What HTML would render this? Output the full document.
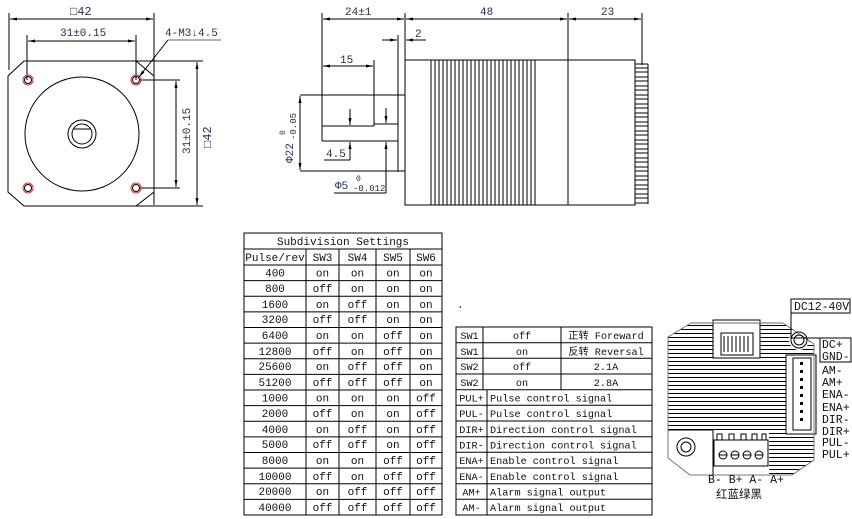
<!DOCTYPE html>
<html><head><meta charset="utf-8"><style>
html,body{margin:0;padding:0;background:#fff;}
svg{display:block;}
text{font-family:"Liberation Mono","Noto Sans CJK SC",monospace;}
.t{font-size:11px;fill:#111;}
.r{font-size:10.2px;fill:#111;}
.d{font-size:11px;fill:#223355;}
</style></head><body>
<svg width="852" height="519" viewBox="0 0 852 519" xmlns="http://www.w3.org/2000/svg">
<defs>
<pattern id="st" x="0" y="0" width="10" height="4" patternUnits="userSpaceOnUse">
<line x1="0" y1="1.5" x2="10" y2="1.5" stroke="#000" stroke-width="1"/>
</pattern>
<marker id="a" markerWidth="8" markerHeight="6" refX="7" refY="3" orient="auto-start-reverse" markerUnits="userSpaceOnUse"><path d="M0,1.5 L7,3 L0,4.5 Z" fill="#000"/></marker>
</defs>
<g stroke="#000" stroke-width="1" fill="none">
<!-- FRONT VIEW -->
<line x1="9" y1="13" x2="9" y2="70"/>
<line x1="154" y1="13" x2="154" y2="205"/>
<line x1="10" y1="19" x2="153" y2="19" marker-start="url(#a)" marker-end="url(#a)"/>
<line x1="27" y1="35" x2="27" y2="80"/>
<line x1="136" y1="35" x2="136" y2="80"/>
<line x1="28" y1="41" x2="135" y2="41" marker-start="url(#a)" marker-end="url(#a)"/>
<path d="M24,61 L136,61 L154,76 L154,192 L136,206 L24,206 L8,192 L8,76 Z"/>
<line x1="136" y1="61" x2="203" y2="61"/>
<line x1="136" y1="206" x2="203" y2="206"/>
<line x1="197" y1="62" x2="197" y2="205" marker-start="url(#a)" marker-end="url(#a)"/>
<line x1="140" y1="80" x2="180" y2="80"/>
<line x1="140" y1="188" x2="180" y2="188"/>
<line x1="176" y1="81" x2="176" y2="187" marker-start="url(#a)" marker-end="url(#a)"/>
<circle cx="82" cy="134" r="57"/>
<circle cx="82" cy="134" r="14"/>
<circle cx="82" cy="134" r="10"/>
<path d="M74,129 L90,129"/>
<g stroke="#d33"><circle cx="28" cy="80" r="5"/><circle cx="136" cy="80" r="5"/><circle cx="28" cy="188" r="5"/><circle cx="136" cy="188" r="5"/></g>
<g stroke="#000"><circle cx="28" cy="80" r="3.5"/><circle cx="136" cy="80" r="3.5"/><circle cx="28" cy="188" r="3.5"/><circle cx="136" cy="188" r="3.5"/></g>
<line x1="168" y1="40" x2="139" y2="77" marker-end="url(#a)"/>
<line x1="168" y1="40" x2="221" y2="40" stroke="#999" stroke-width="1.5"/>

<!-- SIDE VIEW -->
<line x1="322" y1="13" x2="322" y2="141"/>
<line x1="405" y1="13" x2="405" y2="205"/>
<line x1="568" y1="13" x2="568" y2="205"/>
<line x1="642" y1="13" x2="642" y2="65"/>
<line x1="323" y1="19" x2="404" y2="19" marker-start="url(#a)" marker-end="url(#a)"/>
<line x1="406" y1="19" x2="567" y2="19" marker-start="url(#a)" marker-end="url(#a)"/>
<line x1="569" y1="19" x2="641" y2="19" marker-start="url(#a)" marker-end="url(#a)"/>
<line x1="382" y1="40" x2="397" y2="40" marker-end="url(#a)"/>
<line x1="426" y1="40" x2="406" y2="40" marker-end="url(#a)"/>
<line x1="398" y1="35" x2="398" y2="172"/>
<rect x="405" y="60" width="230" height="145"/>
<line x1="323" y1="66" x2="373" y2="66" marker-start="url(#a)" marker-end="url(#a)"/>
<line x1="374" y1="60" x2="374" y2="126"/>
<line x1="300" y1="95" x2="405" y2="95"/>
<line x1="300" y1="171" x2="405" y2="171"/>
<line x1="300" y1="96" x2="300" y2="170" marker-start="url(#a)" marker-end="url(#a)"/>
<line x1="322" y1="126" x2="374" y2="126"/>
<line x1="374" y1="124" x2="398" y2="124"/>
<line x1="322" y1="141" x2="398" y2="141"/>
<line x1="350" y1="109" x2="350" y2="125" marker-end="url(#a)"/>
<line x1="350" y1="160" x2="350" y2="142" marker-end="url(#a)"/>
<line x1="324" y1="160" x2="350" y2="160"/>
<line x1="386" y1="108" x2="386" y2="123" marker-end="url(#a)"/>
<line x1="386" y1="193" x2="386" y2="142" marker-end="url(#a)"/>
<line x1="334" y1="193" x2="386" y2="193"/>
<path d="M431,60V205M435,60V205M439,60V205M443,60V205M447,60V205M451,60V205M455,60V205M459,60V205M463,60V205M467,60V205M471,60V205M475,60V205M479,60V205M483,60V205M487,60V205M491,60V205M495,60V205M499,60V205M503,60V205M507,60V205M511,60V205M515,60V205M519,60V205M523,60V205M527,60V205M531,60V205M535,60V205"/>
<line x1="648" y1="64" x2="648" y2="204"/>
<path d="M635,64H648M635,68H648M635,72H648M635,77H648M635,81H648M635,86H648M635,90H648M635,95H648M635,99H648M635,104H648M635,108H648M635,113H648M635,117H648M635,122H648M635,126H648M635,131H648M635,135H648M635,140H648M635,144H648M635,149H648M635,153H648M635,158H648M635,162H648M635,167H648M635,171H648M635,176H648M635,180H648M635,185H648M635,189H648M635,194H648M635,198H648M635,203H648"/>
</g>
<g class="d">
<text x="70" y="15" font-size="12">□42</text>
<text x="60" y="36">31±0.15</text>
<text x="165" y="36">4-M3↓4.5</text>
<text transform="translate(190,154) rotate(-90)">31±0.15</text>
<text transform="translate(211,148) rotate(-90)" font-size="12">□42</text>
<text x="345" y="15">24±1</text>
<text x="480" y="15">48</text>
<text x="601" y="15">23</text>
<text x="415" y="37">2</text>
<text x="340" y="63">15</text>
<text x="326" y="157">4.5</text>
<text x="335" y="189">Φ5</text>
<text x="356" y="181" font-size="8">0</text>
<text x="353" y="191" font-size="9">-0.012</text>
<text transform="translate(293,163) rotate(-90)">Φ22</text>
<text transform="translate(285,135) rotate(-90)" font-size="8">0</text>
<text transform="translate(296,140) rotate(-90)" font-size="9">-0.05</text>
</g>

<!-- SUBDIVISION TABLE -->
<g stroke="#000" fill="none" stroke-width="1">
<rect x="244" y="233" width="198" height="282"/>
<path d="M244,249H442M244,265H442M244,280.6H442M244,296.3H442M244,311.9H442M244,327.5H442M244,343.1H442M244,358.8H442M244,374.4H442M244,390H442M244,405.6H442M244,421.3H442M244,436.9H442M244,452.5H442M244,468.1H442M244,483.8H442M244,499.4H442"/>
<path d="M306,249V515M339,249V515M376,249V515M410,249V515"/>
</g>
<g class="t" text-anchor="middle">
<text x="343" y="245">Subdivision Settings</text>
<text x="275" y="261">Pulse/rev</text><text x="322.5" y="261">SW3</text><text x="357.5" y="261">SW4</text><text x="393" y="261">SW5</text><text x="426" y="261">SW6</text>
<text x="275" y="276.5">400</text><text x="322.5" y="276.5">on</text><text x="357.5" y="276.5">on</text><text x="393" y="276.5">on</text><text x="426" y="276.5">on</text>
<text x="275" y="292">800</text><text x="322.5" y="292">off</text><text x="357.5" y="292">on</text><text x="393" y="292">on</text><text x="426" y="292">on</text>
<text x="275" y="308">1600</text><text x="322.5" y="308">on</text><text x="357.5" y="308">off</text><text x="393" y="308">on</text><text x="426" y="308">on</text>
<text x="275" y="323">3200</text><text x="322.5" y="323">off</text><text x="357.5" y="323">off</text><text x="393" y="323">on</text><text x="426" y="323">on</text>
<text x="275" y="339">6400</text><text x="322.5" y="339">on</text><text x="357.5" y="339">on</text><text x="393" y="339">off</text><text x="426" y="339">on</text>
<text x="275" y="355">12800</text><text x="322.5" y="355">off</text><text x="357.5" y="355">on</text><text x="393" y="355">off</text><text x="426" y="355">on</text>
<text x="275" y="370">25600</text><text x="322.5" y="370">on</text><text x="357.5" y="370">off</text><text x="393" y="370">off</text><text x="426" y="370">on</text>
<text x="275" y="386">51200</text><text x="322.5" y="386">off</text><text x="357.5" y="386">off</text><text x="393" y="386">off</text><text x="426" y="386">on</text>
<text x="275" y="401.5">1000</text><text x="322.5" y="401.5">on</text><text x="357.5" y="401.5">on</text><text x="393" y="401.5">on</text><text x="426" y="401.5">off</text>
<text x="275" y="417">2000</text><text x="322.5" y="417">off</text><text x="357.5" y="417">on</text><text x="393" y="417">on</text><text x="426" y="417">off</text>
<text x="275" y="433">4000</text><text x="322.5" y="433">on</text><text x="357.5" y="433">off</text><text x="393" y="433">on</text><text x="426" y="433">off</text>
<text x="275" y="448">5000</text><text x="322.5" y="448">off</text><text x="357.5" y="448">off</text><text x="393" y="448">on</text><text x="426" y="448">off</text>
<text x="275" y="464">8000</text><text x="322.5" y="464">on</text><text x="357.5" y="464">on</text><text x="393" y="464">off</text><text x="426" y="464">off</text>
<text x="275" y="480">10000</text><text x="322.5" y="480">off</text><text x="357.5" y="480">on</text><text x="393" y="480">off</text><text x="426" y="480">off</text>
<text x="275" y="495">20000</text><text x="322.5" y="495">on</text><text x="357.5" y="495">off</text><text x="393" y="495">off</text><text x="426" y="495">off</text>
<text x="275" y="511">40000</text><text x="322.5" y="511">off</text><text x="357.5" y="511">off</text><text x="393" y="511">off</text><text x="426" y="511">off</text>
</g>

<!-- SIGNAL TABLE -->
<g stroke="#000" fill="none" stroke-width="1">
<rect x="456" y="327" width="196" height="188"/>
<path d="M456,342.7H652M456,358.3H652M456,374H652M456,389.7H652M456,405.3H652M456,421H652M456,436.7H652M456,452.3H652M456,468H652M456,483.7H652M456,499.3H652"/>
<path d="M483,327V389.7M561,327V389.7M487,389.7V515"/>
</g>
<text x="457" y="308" class="t">.</text>
<g class="r">
<text x="469.5" y="339" text-anchor="middle">SW1</text><text x="522" y="339" text-anchor="middle">off</text><text x="606" y="339" text-anchor="middle">正转 Foreward</text>
<text x="469.5" y="355" text-anchor="middle">SW1</text><text x="522" y="355" text-anchor="middle">on</text><text x="606" y="355" text-anchor="middle">反转 Reversal</text>
<text x="469.5" y="370" text-anchor="middle">SW2</text><text x="522" y="370" text-anchor="middle">off</text><text x="606" y="370" text-anchor="middle">2.1A</text>
<text x="469.5" y="386" text-anchor="middle">SW2</text><text x="522" y="386" text-anchor="middle">on</text><text x="606" y="386" text-anchor="middle">2.8A</text>
<text x="471.5" y="401.5" text-anchor="middle">PUL+</text><text x="490" y="401.5">Pulse control signal</text>
<text x="471.5" y="417" text-anchor="middle">PUL-</text><text x="490" y="417">Pulse control signal</text>
<text x="471.5" y="433" text-anchor="middle">DIR+</text><text x="490" y="433">Direction control signal</text>
<text x="471.5" y="448.5" text-anchor="middle">DIR-</text><text x="490" y="448.5">Direction control signal</text>
<text x="471.5" y="464" text-anchor="middle">ENA+</text><text x="490" y="464">Enable control signal</text>
<text x="471.5" y="480" text-anchor="middle">ENA-</text><text x="490" y="480">Enable control signal</text>
<text x="471.5" y="495.5" text-anchor="middle">AM+</text><text x="490" y="495.5">Alarm signal output</text>
<text x="471.5" y="511" text-anchor="middle">AM-</text><text x="490" y="511">Alarm signal output</text>
</g>

<!-- DRIVER -->
<path d="M691,323 L783,323 L814,344 L814,460 L792,475 L690,475 L668,458 L668,337 Z" fill="url(#st)" stroke="none"/>
<g fill="#fff" stroke="#000">
<rect x="713" y="320" width="47" height="38"/>
<rect x="786" y="355" width="30" height="79"/>
<rect x="668" y="430" width="45" height="47" stroke="none"/>
<rect x="713" y="430" width="56" height="47" stroke="none"/>
<circle cx="799" cy="340" r="10" stroke="none"/>
</g>
<g stroke="#000" fill="none">
<path d="M691,323 L783,323" stroke="#999" stroke-width="1.5"/>
<path d="M783,323 L814,344 L814,460 L792,475 L690,475 L668,458 L668,337 L691,323" stroke="#777"/>
<line x1="713" y1="323" x2="713" y2="358"/><line x1="760" y1="323" x2="760" y2="358"/>
<rect x="721" y="333" width="32" height="22"/>
<path d="M724,336V352M728,336V352M732,336V352M736,336V352M740,336V352M744,336V352M748,336V352"/>
<circle cx="799" cy="340" r="8"/><circle cx="799" cy="340" r="5"/>
<rect x="793" y="358" width="18" height="72"/>
<path d="M668,430H713V475"/>
<circle cx="686" cy="447" r="9"/><circle cx="686" cy="447" r="5"/>
<rect x="714" y="440" width="54" height="26"/>
<path d="M717,440V434H722V440M729,440V434H734V440M741,440V434H746V440M752,440V434H757V440M762,440V434H766V440"/>
<circle cx="723" cy="455" r="4"/><circle cx="735" cy="455" r="4"/><circle cx="747" cy="455" r="4"/><circle cx="759" cy="455" r="4"/>
<path d="M719,455h8M731,455h8M743,455h8M755,455h8"/>
<rect x="791" y="299" width="59" height="14"/>
<path d="M791,313V338H820"/>
<rect x="820" y="338" width="31" height="24"/>
</g>
<g fill="#000"><rect x="800" y="362" width="3" height="3"/><rect x="800" y="370" width="3" height="3"/><rect x="800" y="378" width="3" height="3"/><rect x="800" y="386" width="3" height="3"/><rect x="800" y="394" width="3" height="3"/><rect x="800" y="402" width="3" height="3"/><rect x="800" y="410" width="3" height="3"/><rect x="800" y="418" width="3" height="3"/></g>
<g font-family="Liberation Serif,serif" font-size="11.5" fill="#111">
<text x="794" y="310">DC12-40V</text>
<text x="822" y="348">DC+</text>
<text x="822" y="360">GND-</text>
<text x="822" y="374">AM-</text>
<text x="822" y="386">AM+</text>
<text x="822" y="398">ENA-</text>
<text x="822" y="411">ENA+</text>
<text x="822" y="423">DIR-</text>
<text x="822" y="435">DIR+</text>
<text x="822" y="446">PUL-</text>
<text x="822" y="458">PUL+</text>
<text x="708" y="483">B- B+ A- A+</text>
<text x="716" y="498" font-family="Noto Serif CJK SC,serif">红蓝绿黑</text>
</g>
</svg>
</body></html>
